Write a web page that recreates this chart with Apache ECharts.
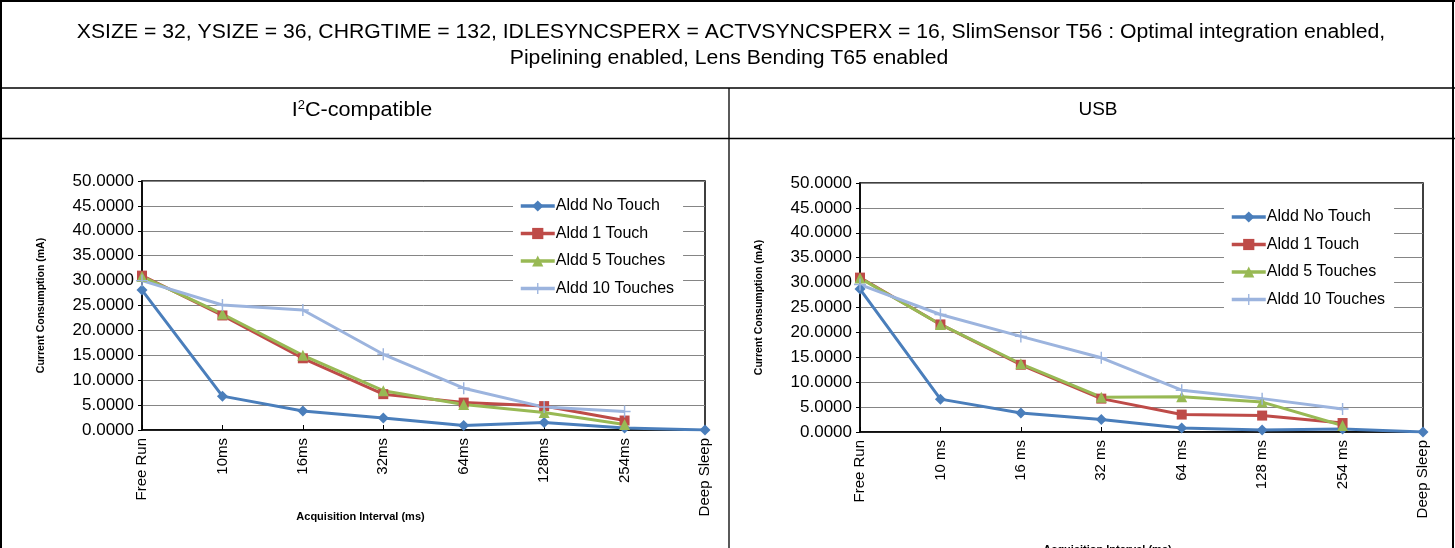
<!DOCTYPE html>
<html>
<head>
<meta charset="utf-8">
<script src="https://cdn.jsdelivr.net/npm/echarts@6/dist/echarts.min.js"></script>
<style>
html,body{margin:0;padding:0;background:#fff;}
#c{width:1455px;height:548px;}
</style>
</head>
<body>
<div id="c"></div>
<script>
const titleLine1 = 'XSIZE = 32, YSIZE = 36, CHRGTIME = 132, IDLESYNCSPERX = ACTVSYNCSPERX = 16, SlimSensor T56 : Optimal integration enabled,';
const titleLine2 = 'Pipelining enabled, Lens Bending T65 enabled';
const rightTitle = 'USB';
const yAxisName = 'Current Consumption (mA)';
const xAxisName = 'Acquisition Interval (ms)';
const seriesNames = ['Aldd No Touch', 'Aldd 1 Touch', 'Aldd 5 Touches', 'Aldd 10 Touches'];

const categoriesI2C = ['Free Run', '10ms', '16ms', '32ms', '64ms', '128ms', '254ms', 'Deep Sleep'];
const categoriesUSB = ['Free Run', '10 ms', '16 ms', '32 ms', '64 ms', '128 ms', '254 ms', 'Deep Sleep'];

const i2cNoTouch  = [28.1, 6.8, 3.8, 2.4, 0.9, 1.5, 0.4, 0];
const i2cTouch1   = [31.0, 23.0, 14.4, 7.2, 5.5, 4.8, 1.9, null];
const i2cTouch5   = [30.8, 23.3, 15.0, 7.9, 5.1, 3.5, 1.1, null];
const i2cTouch10  = [30.0, 25.1, 24.1, 15.2, 8.4, 4.6, 3.7, null];

const usbNoTouch  = [28.7, 6.6, 3.8, 2.5, 0.8, 0.4, 0.6, 0];
const usbTouch1   = [31.0, 21.6, 13.5, 6.7, 3.5, 3.3, 1.8, null];
const usbTouch5   = [30.9, 21.6, 13.7, 7.0, 7.1, 6.0, 1.3, null];
const usbTouch10  = [29.6, 23.6, 19.2, 14.9, 8.4, 6.7, 4.6, null];

const colors = ['#4A7EBB', '#BE4B48', '#98B954', '#9CB4DE'];
const plusPath = 'path://M4.4,0H5.6V4.4H10V5.6H5.6V10H4.4V5.6H0V4.4H4.4Z';
const symbols = ['diamond', 'rect', 'triangle', plusPath];
const symbolSizes = [11, 10, 11, 12];

const FONT = 'Liberation Sans, Arial, sans-serif';

function mkSeries(dataArr, gi) {
  return dataArr.map((d, i) => ({
    name: seriesNames[i],
    type: 'line',
    xAxisIndex: gi,
    yAxisIndex: gi,
    data: d,
    symbol: symbols[i],
    symbolSize: symbolSizes[i],
    showSymbol: true,
    connectNulls: false,
    lineStyle: { width: 3, color: colors[i] },
    itemStyle: { color: colors[i] },
    animation: false
  }));
}

function mkY(gi, nameGap) {
  return {
    type: 'value', gridIndex: gi, min: 0, max: 50, interval: 5,
    name: yAxisName, nameLocation: 'middle', nameGap: nameGap, nameRotate: 90,
    nameTextStyle: { fontFamily: FONT, fontSize: 10.5, fontWeight: 'bold', color: '#000' },
    axisLine: { show: true, lineStyle: { color: '#000', width: 1.5 } },
    axisTick: { show: true, length: 4, lineStyle: { color: '#000' } },
    axisLabel: { formatter: v => v.toFixed(4), fontFamily: FONT, fontSize: 17, color: '#000', margin: 8 },
    splitLine: { show: true, lineStyle: { color: '#858585', width: 1 } }
  };
}

function mkX(gi, cats, nameGap, shiftPad) {
  return {
    type: 'category', gridIndex: gi, data: cats, boundaryGap: false,
    name: xAxisName, nameLocation: 'middle', nameGap: nameGap, nameMoveOverlap: false,
    nameTextStyle: { fontFamily: FONT, fontSize: 11, fontWeight: 'bold', color: '#000', padding: [0, shiftPad, 0, 0] },
    axisLine: { show: true, onZero: false, lineStyle: { color: '#000', width: 1.5 } },
    axisTick: { show: true, inside: true, length: 5, alignWithLabel: true, lineStyle: { color: '#000' } },
    axisLabel: { rotate: 90, interval: 0, fontFamily: FONT, fontSize: 15, color: '#000', margin: 8 },
    splitLine: { show: false }
  };
}

function mkLegend(left, top) {
  return {
    left: left, top: top, orient: 'vertical',
    data: seriesNames,
    backgroundColor: '#fff',
    padding: [4, 9, 4, 6],
    itemWidth: 34, itemHeight: 14, itemGap: 11.5,
    lineStyle: { width: 3.5 },
    textStyle: { fontFamily: FONT, fontSize: 16, color: '#000', padding: [0, 0, 0, -4] }
  };
}

const chart = echarts.init(document.getElementById('c'), null, { renderer: 'canvas' });

const borderLine = (x1, y1, x2, y2, w) => ({
  type: 'line', shape: { x1, y1, x2, y2 }, style: { stroke: '#000', lineWidth: w }, z: 100
});
const txt = (x, y, t, size, sx) => ({
  type: 'text', x: x, y: y, scaleX: sx,
  style: { text: t, fontFamily: FONT, fontSize: size, fill: '#000', textAlign: 'center', textVerticalAlign: 'middle' },
  z: 100
});

const option = {
  animation: false,
  backgroundColor: '#fff',
  color: colors,
  graphic: [
    borderLine(0, 1, 1455, 1, 2),
    borderLine(1, 0, 1, 548, 2),
    borderLine(1453, 0, 1453, 548, 2),
    borderLine(0, 88, 1455, 88, 1.3),
    borderLine(0, 138.5, 1455, 138.5, 1.3),
    borderLine(729, 88, 729, 548, 1.3),
    txt(731, 32, titleLine1, 20, 1.06),
    txt(729, 58, titleLine2, 20, 1.06),
    {
      type: 'text', x: 362, y: 110, z: 100, scaleX: 1.08,
      style: {
        text: '{n|I}{s|2}{n|C-compatible}',
        textAlign: 'center', textVerticalAlign: 'middle',
        rich: {
          n: { fontFamily: FONT, fontSize: 20, fill: '#000' },
          s: { fontFamily: FONT, fontSize: 12, fill: '#000', padding: [0, 0, 9, 0] }
        }
      }
    },
    txt(1098, 110, rightTitle, 19, 1.0)
  ],
  grid: [
    { left: 142, right: 750, top: 181, bottom: 118, show: true, borderColor: '#000', borderWidth: 1.5, backgroundColor: '#fff', outerBoundsMode: 'none', containLabel: false },
    { left: 860, right: 32, top: 183, bottom: 116, show: true, borderColor: '#000', borderWidth: 1.5, backgroundColor: '#fff', outerBoundsMode: 'none', containLabel: false }
  ],
  xAxis: [ mkX(0, categoriesI2C, 81, 126), mkX(1, categoriesUSB, 112, 68) ],
  yAxis: [ mkY(0, 95), mkY(1, 95) ],
  legend: [ mkLegend(513, 194), mkLegend(1224, 205) ],
  series: [].concat(
    mkSeries([i2cNoTouch, i2cTouch1, i2cTouch5, i2cTouch10], 0),
    mkSeries([usbNoTouch, usbTouch1, usbTouch5, usbTouch10], 1)
  )
};
chart.setOption(option);
</script>
</body>
</html>
